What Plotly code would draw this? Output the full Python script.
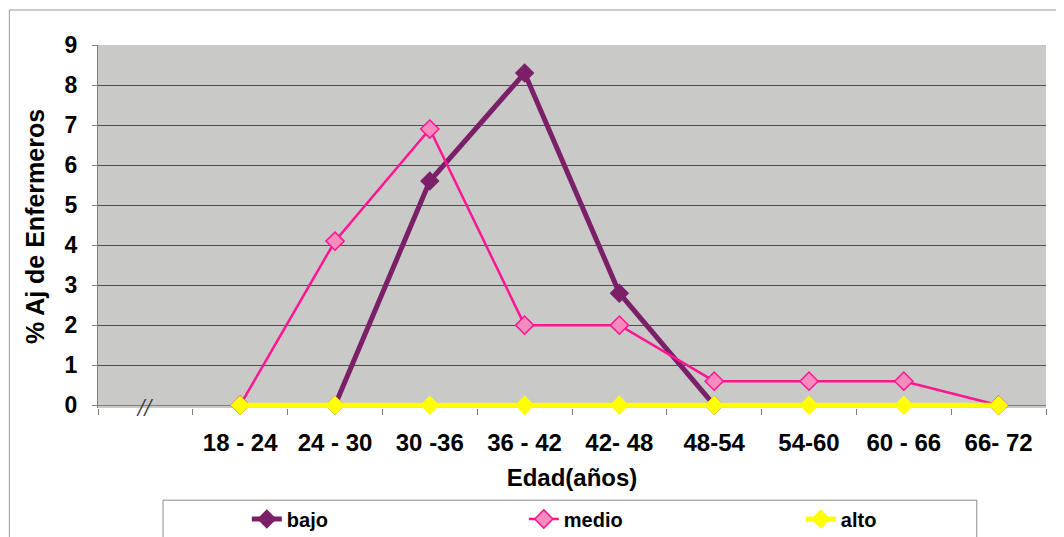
import plotly.graph_objects as go

categories = [" ", "18 - 24", "24 - 30", "30 -36", "36 - 42", "42- 48", "48-54", "54-60", "60 - 66", "66- 72"]
data_categories = ["18 - 24", "24 - 30", "30 -36", "36 - 42", "42- 48", "48-54", "54-60", "60 - 66", "66- 72"]
bajo = [None, 0, 5.6, 8.3, 2.8, 0, None, None, None]
medio = [0, 4.1, 6.9, 2.0, 2.0, 0.6, 0.6, 0.6, 0]
alto = [0, 0, 0, 0, 0, 0, 0, 0, 0]

FONT = "Liberation Sans"
PURPLE = "#7a1f68"
PINK = "#ff1493"
PINK_FILL = "#f58cbd"
YELLOW = "#ffff00"

fig = go.Figure()
fig.add_trace(go.Scatter(
    x=data_categories, y=bajo, name="bajo", mode="lines+markers",
    line=dict(color=PURPLE, width=5),
    marker=dict(symbol="diamond", size=15, color=PURPLE),
    connectgaps=False, cliponaxis=False,
))
fig.add_trace(go.Scatter(
    x=data_categories, y=medio, name="medio", mode="lines+markers",
    line=dict(color=PINK, width=2.5),
    marker=dict(symbol="diamond", size=14, color=PINK_FILL, line=dict(color=PINK, width=1.5)),
    cliponaxis=False,
))
fig.add_trace(go.Scatter(
    x=data_categories, y=alto, name="alto", mode="lines+markers",
    line=dict(color=YELLOW, width=5),
    marker=dict(symbol="diamond", size=15, color=YELLOW),
    cliponaxis=False,
))

# page body has an 8px default margin; figure size/margins compensate for it
fig.update_layout(
    width=1056, height=529,
    margin=dict(l=90, r=18, t=37, b=129, autoexpand=False),
    paper_bgcolor="white",
    plot_bgcolor="#c9c9c7",
    font=dict(family=FONT, color="black", size=20, weight="bold"),
    showlegend=True,
    legend=dict(
        orientation="h", x=0.157, xanchor="left", y=-0.252, yanchor="top",
        borderwidth=0, bgcolor="rgba(0,0,0,0)",
        font=dict(family=FONT, size=20, weight="bold", color="black"),
        entrywidth=232, entrywidthmode="pixels",
        traceorder="normal",
    ),
    xaxis=dict(
        type="category", categoryorder="array", categoryarray=categories,
        range=[-0.5, 9.5], automargin=False,
        tickson="boundaries", ticks="outside", ticklen=6, tickcolor="#808080",
        showline=False,
        showgrid=False, zeroline=False,
        tickfont=dict(family=FONT, size=24, weight="bold", color="black"),
        ticklabelstandoff=18,
        title=dict(text="Edad(años)", font=dict(family=FONT, size=24, weight="bold", color="black"), standoff=14),
    ),
    yaxis=dict(
        range=[-0.07, 9], dtick=1, tick0=0, automargin=False,
        showgrid=True, gridcolor="#4d4d4d", gridwidth=1,
        showline=True, linecolor="#808080", linewidth=1,
        ticks="outside", ticklen=5, tickcolor="#808080",
        zeroline=True, zerolinecolor="#808080", zerolinewidth=1,
        tickfont=dict(family=FONT, size=23, weight="bold", color="black"),
        ticklabelstandoff=10,
        title=dict(text="% Aj de Enfermeros", font=dict(family=FONT, size=25, weight="bold", color="black"), standoff=12),
    ),
)

fig.add_annotation(
    x=" ", y=0, xref="x", yref="y", text="<i>//</i>", showarrow=False,
    font=dict(family="DejaVu Serif", size=20, color="#404040", weight="normal"),
    yshift=-2,
)

# outer chart border
fig.add_shape(
    type="rect", xref="paper", yref="paper",
    x0=-0.0935, x1=1.1, y0=-0.4, y1=1.0965,
    line=dict(color="#999999", width=1), fillcolor="rgba(0,0,0,0)", layer="below",
)
# legend box
fig.add_shape(
    type="rect", xref="paper", yref="paper",
    x0=0.0686, x1=0.927, y0=-0.3745, y1=-0.254,
    line=dict(color="#8c8c8c", width=1), fillcolor="white", layer="below",
)

fig.write_html("out.html")
